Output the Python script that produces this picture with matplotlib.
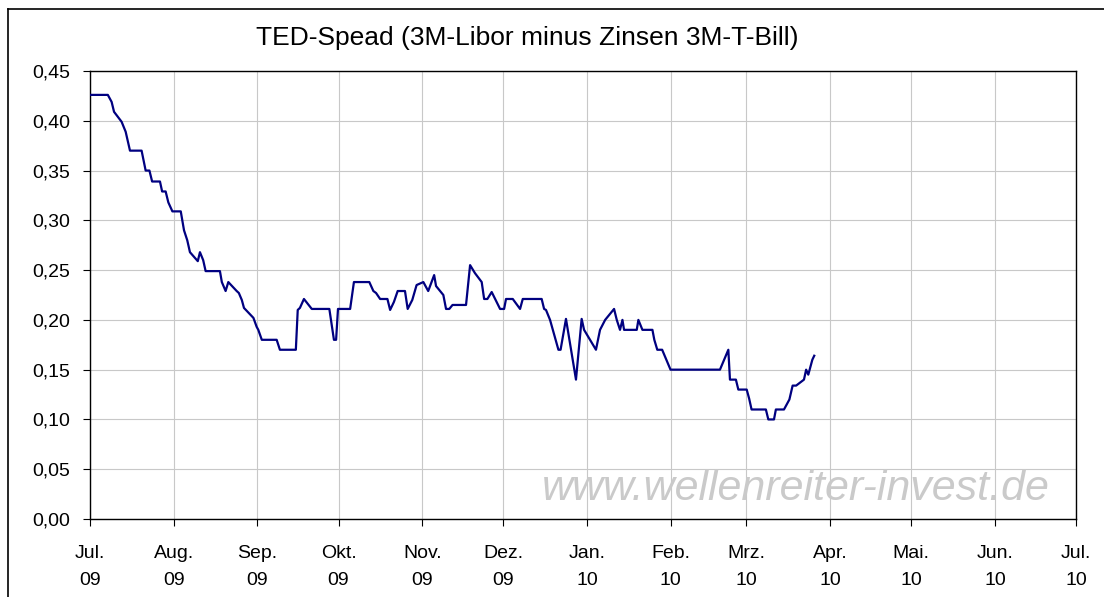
import numpy as np
import pandas as pd
import matplotlib
matplotlib.use('Agg')
import matplotlib.pyplot as plt
import matplotlib.dates as mdates
from matplotlib.lines import Line2D

plt.rcParams['font.family'] = ['Liberation Sans', 'DejaVu Sans']

# Tage seit 01.07.2009 und TED-Spread (Prozentpunkte)
start = pd.Timestamp('2009-07-01')
days = [0, 6.6, 8, 8.9, 11.7, 13.2, 14.8, 19.1, 20.6, 22, 23, 25.9, 26.7, 28, 29,
        30.5, 33.6, 34.8, 36, 37, 39.9, 40.7, 41.9, 42.8, 48.1, 48.8, 50.2, 51.2,
        54.3, 55.1, 56.2, 57, 60.5, 61.7, 62.3, 63.6, 69.1, 70.3, 76.2, 76.9, 77.7,
        79.2, 82.1, 88.6, 90.3, 91.1, 91.8, 96.3, 97.7, 103.4, 104.9, 105.9, 107.4,
        110.1, 111.1, 112.5, 113.9, 116.6, 117.6, 119.3, 120.9, 123.4, 125.2, 127.4,
        128.1, 130.8, 131.8, 133, 134.2, 139.2, 140.7, 142.5, 145, 145.9, 147.1,
        148.7, 151.8, 153.3, 154, 156.5, 159.2, 160.2, 167.2, 168.1, 168.8, 170.3,
        173.4, 174.2, 176.2, 179.9, 182, 182.9, 187.3, 188.8, 190.7, 194, 195,
        196.2, 197.1, 197.7, 202.4, 203, 204.5, 208.2, 208.9, 210, 211.8, 214.9,
        233.2, 236.3, 236.9, 239.1, 240, 243.1, 244, 244.9, 250.2, 251.1, 253.2,
        253.9, 256.9, 258.9, 260.1, 261.4, 264.3, 265.1, 265.9, 267.4, 268.1]
ted = [0.426, 0.426, 0.419, 0.409, 0.399, 0.389, 0.370, 0.370, 0.350, 0.350, 0.339,
       0.339, 0.329, 0.329, 0.318, 0.309, 0.309, 0.290, 0.280, 0.268, 0.259, 0.268,
       0.260, 0.249, 0.249, 0.238, 0.229, 0.238, 0.229, 0.227, 0.220, 0.212, 0.202,
       0.193, 0.190, 0.180, 0.180, 0.170, 0.170, 0.210, 0.212, 0.221, 0.211, 0.211,
       0.180, 0.180, 0.211, 0.211, 0.238, 0.238, 0.229, 0.227, 0.221, 0.221, 0.210,
       0.218, 0.229, 0.229, 0.211, 0.220, 0.235, 0.238, 0.229, 0.245, 0.234, 0.225,
       0.211, 0.211, 0.215, 0.215, 0.255, 0.247, 0.238, 0.221, 0.221, 0.228, 0.211,
       0.211, 0.221, 0.221, 0.211, 0.221, 0.221, 0.211, 0.210, 0.200, 0.170, 0.170,
       0.201, 0.140, 0.201, 0.190, 0.170, 0.190, 0.200, 0.211, 0.200, 0.190, 0.200,
       0.190, 0.190, 0.200, 0.190, 0.190, 0.180, 0.170, 0.170, 0.150, 0.150, 0.170,
       0.140, 0.140, 0.130, 0.130, 0.121, 0.110, 0.110, 0.100, 0.100, 0.110, 0.110,
       0.120, 0.134, 0.134, 0.140, 0.150, 0.145, 0.160, 0.164]

monate = ['Jul.', 'Aug.', 'Sep.', 'Okt.', 'Nov.', 'Dez.', 'Jan.', 'Feb.', 'Mrz.',
          'Apr.', 'Mai.', 'Jun.', 'Jul.']
jahre = ['09', '09', '09', '09', '09', '09', '10', '10', '10', '10', '10', '10', '10']
y_ticks = [0.00, 0.05, 0.10, 0.15, 0.20, 0.25, 0.30, 0.35, 0.40, 0.45]

dates = start + pd.to_timedelta(days, unit='D')
month_starts = pd.date_range('2009-07-01', '2010-07-01', freq='MS')

fig = plt.figure(figsize=(11.04, 5.97), dpi=100)
ax = fig.add_axes([90 / 1104, 1 - 519 / 597, 986 / 1104, 448 / 597])

ax.plot(dates, ted, color='#000080', linewidth=1.6, zorder=3)

ax.set_xlim(month_starts[0], month_starts[-1])
ax.set_ylim(0, 0.45)
ax.set_xticks(month_starts)
ax.set_xticklabels([f'{m}\n{j}' for m, j in zip(monate, jahre)], linespacing=1.75)
ax.set_yticks(y_ticks)
ax.set_yticklabels([f'{v:.2f}'.replace('.', ',') for v in y_ticks])

ax.grid(True, color='#c8c8c8', linewidth=0.8)
ax.set_axisbelow(True)
ax.tick_params(axis='both', labelsize=14, color='black', width=0.8, length=5)
ax.tick_params(axis='x', pad=14)
ax.tick_params(axis='y', pad=9)
for s in ax.spines.values():
    s.set_color('black')
    s.set_linewidth(1.0)

fig.text(527 / 1104, 1 - 38 / 597, 'TED-Spead (3M-Libor minus Zinsen 3M-T-Bill)',
         ha='center', va='center', fontsize=19)

ax.text(796 / 1104, 1 - 489 / 597, 'www.wellenreiter-invest.de', transform=fig.transFigure,
        ha='center', va='center', fontsize=31, style='italic', color='#cacaca', zorder=2)

# Rahmen des Diagrammbereichs
fig.add_artist(Line2D([8 / 1104, 8 / 1104], [0, 1 - 9 / 597], color='black', linewidth=1.2))
fig.add_artist(Line2D([8 / 1104, 1], [1 - 9 / 597, 1 - 9 / 597], color='black', linewidth=1.2))

fig.savefig('out.png', dpi=100)
